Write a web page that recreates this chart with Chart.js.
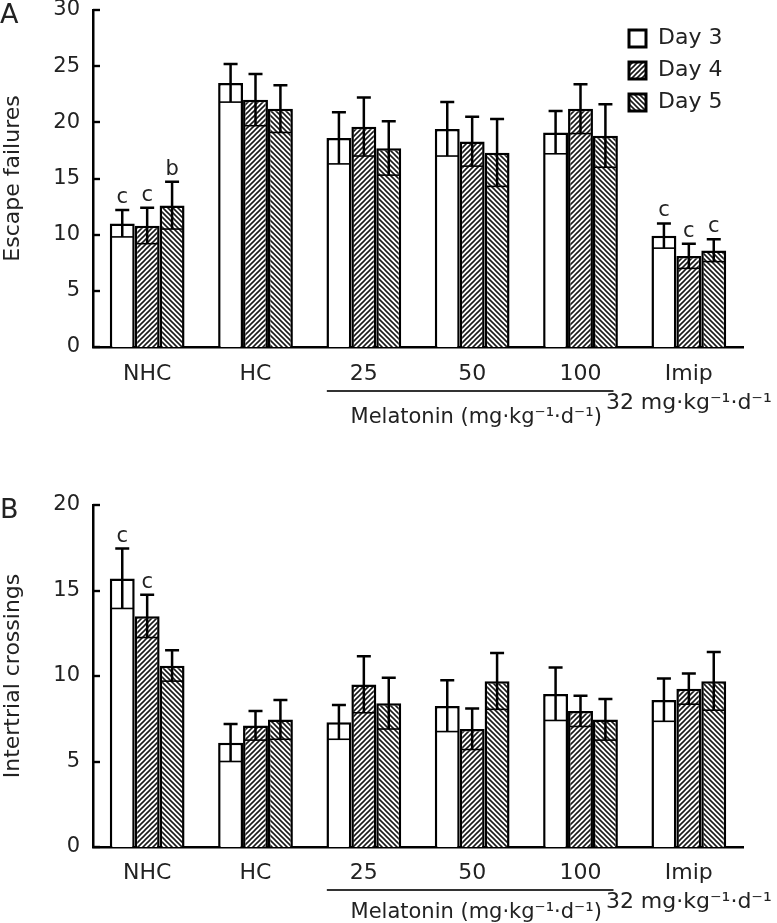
<!DOCTYPE html>
<html><head><meta charset="utf-8">
<script src="https://cdn.jsdelivr.net/npm/chart.js@4"></script>
<style>
html,body{margin:0;padding:0;background:#fff;}
#wrap{position:relative;width:777px;height:923px;overflow:hidden;}
canvas{position:absolute;left:0;}
</style></head><body>
<div id="wrap">
<canvas id="cA" width="777" height="430" style="top:0"></canvas>
<canvas id="cB" width="777" height="493" style="top:430px"></canvas>
</div>
<script>
// ---- data ----
const categories = ['NHC', 'HC', '25', '50', '100', ['Imip', '32 mg·kg⁻¹·d⁻¹']];
const seriesNames = ['Day 3', 'Day 4', 'Day 5'];
const yTicksA = [0, 5, 10, 15, 20, 25, 30];
const yTicksB = [0, 5, 10, 15, 20];

// Panel A: Escape failures
const escapeDay3 = [11.0, 23.5, 18.6, 19.4, 19.1, 9.9];
const escapeDay4 = [10.8, 22.0, 19.6, 18.3, 21.2, 8.1];
const escapeDay5 = [12.6, 21.2, 17.7, 17.3, 18.8, 8.6];
const escapeErr3 = [1.2, 1.7, 2.3, 2.4, 1.9, 1.1];
const escapeErr4 = [1.6, 2.3, 2.6, 2.2, 2.2, 1.1];
const escapeErr5 = [2.1, 2.1, 2.4, 3.0, 2.8, 1.0];
const escapeSig3 = ['c', '', '', '', '', 'c'];
const escapeSig4 = ['c', '', '', '', '', 'c'];
const escapeSig5 = ['b', '', '', '', '', 'c'];

// Panel B: Intertrial crossings
const crossDay3 = [15.7, 6.1, 7.3, 8.25, 8.95, 8.6];
const crossDay4 = [13.5, 7.1, 9.5, 6.9, 7.95, 9.25];
const crossDay5 = [10.6, 7.45, 8.4, 9.7, 7.45, 9.7];
const crossErr3 = [1.75, 1.1, 1.0, 1.5, 1.55, 1.25];
const crossErr4 = [1.25, 0.85, 1.65, 1.2, 0.9, 0.9];
const crossErr5 = [0.9, 1.15, 1.5, 1.65, 1.2, 1.7];
const crossSig3 = ['c', '', '', '', '', ''];
const crossSig4 = ['c', '', '', '', '', ''];
const crossSig5 = ['', '', '', '', '', ''];

const melatoninLabel = 'Melatonin (mg·kg⁻¹·d⁻¹)';

// ---- styles ----
const FONT = 'DejaVu Sans';
const TXT = '#222';

function hatch(dir) {
  const s = 5;
  const c = document.createElement('canvas');
  c.width = s; c.height = s;
  const g = c.getContext('2d');
  g.fillStyle = '#fff'; g.fillRect(0, 0, s, s);
  g.strokeStyle = '#1a1a1a'; g.lineWidth = 1.6;
  g.beginPath();
  if (dir > 0) { // "/"
    g.moveTo(0, s); g.lineTo(s, 0);
    g.moveTo(-1, 1); g.lineTo(1, -1);
    g.moveTo(s - 1, s + 1); g.lineTo(s + 1, s - 1);
  } else { // "\"
    g.moveTo(0, 0); g.lineTo(s, s);
    g.moveTo(s - 1, -1); g.lineTo(s + 1, 1);
    g.moveTo(-1, s - 1); g.lineTo(1, s + 1);
  }
  g.stroke();
  return g.createPattern(c, 'repeat');
}
const fills = ['#ffffff', hatch(1), hatch(-1)];

function makeDatasets(vals, errs, sigs) {
  return vals.map((v, i) => ({
    label: seriesNames[i],
    data: v,
    errors: errs[i],
    sig: sigs[i],
    backgroundColor: fills[i],
    borderColor: '#000',
    borderWidth: 2.5,
    categoryPercentage: 0.69,
    barPercentage: 1.0
  }));
}

// ---- plugins ----
const errorBars = {
  id: 'errorBars',
  afterDatasetsDraw(chart) {
    const ctx = chart.ctx, ys = chart.scales.y;
    chart.data.datasets.forEach((ds, i) => {
      const meta = chart.getDatasetMeta(i);
      meta.data.forEach((bar, j) => {
        const v = ds.data[j], e = ds.errors[j];
        const x = bar.x, half = bar.width / 2;
        const yt = ys.getPixelForValue(v + e), yb = ys.getPixelForValue(v - e);
        ctx.save();
        ctx.strokeStyle = '#000';
        ctx.lineWidth = 2.5;
        ctx.beginPath();
        ctx.moveTo(x, yt); ctx.lineTo(x, yb);
        ctx.moveTo(x - 7, yt); ctx.lineTo(x + 7, yt);
        ctx.stroke();
        ctx.lineWidth = 1.6;
        ctx.beginPath();
        ctx.moveTo(x - half + 1, yb); ctx.lineTo(x + half - 1, yb);
        ctx.stroke();
        if (ds.sig[j]) {
          ctx.fillStyle = TXT;
          ctx.font = '21px "' + FONT + '"';
          ctx.textAlign = 'center';
          ctx.textBaseline = 'alphabetic';
          ctx.fillText(ds.sig[j], x, yt - 7);
        }
        ctx.restore();
      });
    });
  }
};

const decorations = {
  id: 'decorations',
  afterDraw(chart, args, o) {
    const ctx = chart.ctx, xs = chart.scales.x, ys = chart.scales.y, ca = chart.chartArea;
    ctx.save();
    // inward y tick marks
    ctx.strokeStyle = '#000'; ctx.lineWidth = 2.4;
    ys.ticks.forEach(t => {
      const y = Math.round(ys.getPixelForValue(t.value));
      ctx.beginPath(); ctx.moveTo(ca.left, y); ctx.lineTo(ca.left + 7, y); ctx.stroke();
    });
    // melatonin bracket line
    const x1 = xs.getPixelForValue(2) - 37, x2 = xs.getPixelForValue(4) + 33;
    ctx.strokeStyle = '#333'; ctx.lineWidth = 2;
    ctx.beginPath(); ctx.moveTo(x1, ca.bottom + o.lineOff); ctx.lineTo(x2, ca.bottom + o.lineOff); ctx.stroke();
    ctx.fillStyle = TXT;
    ctx.font = '21px "' + FONT + '"';
    ctx.textAlign = 'center'; ctx.textBaseline = 'middle';
    ctx.fillText(melatoninLabel, (x1 + x2) / 2 + 6, ca.bottom + o.textOff);
    // panel letter
    ctx.font = '27px "' + FONT + '"';
    ctx.textAlign = 'left'; ctx.textBaseline = 'middle';
    ctx.fillText(o.letter, 0, o.letterY);
    // legend
    if (o.legend) {
      chart.data.datasets.forEach((ds, i) => {
        const bx = 629, by = 30 + i * 32, s = 17;
        ctx.fillStyle = ds.backgroundColor;
        ctx.fillRect(bx, by, s, s);
        ctx.strokeStyle = '#000'; ctx.lineWidth = 3;
        ctx.strokeRect(bx, by, s, s);
        ctx.fillStyle = TXT;
        ctx.font = '22px "' + FONT + '"';
        ctx.textAlign = 'left'; ctx.textBaseline = 'middle';
        ctx.fillText(ds.label, 658, by + s / 2);
      });
    }
    ctx.restore();
  }
};

function makeOptions(yMax, yTitle, xHeight, topPad, xPad, deco) {
  return {
    responsive: false,
    animation: false,
    layout: { padding: { left: 0, right: 34, top: topPad, bottom: 0 } },
    plugins: { legend: { display: false }, tooltip: { enabled: false }, decorations: deco },
    scales: {
      x: {
        grid: { display: false, drawTicks: false },
        border: { display: true, color: '#000', width: 2.5 },
        ticks: { color: TXT, font: { family: FONT, size: 22, lineHeight: 1.35 }, padding: xPad,
                 maxRotation: 0, minRotation: 0, autoSkip: false },
        afterFit(s) { s.height = xHeight; s.paddingLeft = 0; s.paddingRight = 0; }
      },
      y: {
        min: 0, max: yMax,
        afterBuildTicks(s) { s.ticks = (yMax === 30 ? yTicksA : yTicksB).map(v => ({ value: v })); },
        grid: { display: false, drawTicks: false },
        border: { display: true, color: '#000', width: 2.5 },
        ticks: { color: TXT, font: { family: FONT, size: 21 }, padding: 13 },
        title: { display: true, text: yTitle, color: TXT, font: { family: FONT, size: 22 }, padding: { top: 0, bottom: 0 } },
        afterFit(s) { s.width = 93; s.paddingTop = 0; s.paddingBottom = 0; }
      }
    }
  };
}

new Chart(document.getElementById('cA'), {
  type: 'bar',
  data: { labels: categories,
    datasets: makeDatasets([escapeDay3, escapeDay4, escapeDay5], [escapeErr3, escapeErr4, escapeErr5], [escapeSig3, escapeSig4, escapeSig5]) },
  options: makeOptions(30, 'Escape failures', 83, 10, 12, { lineOff: 44, textOff: 71, letter: 'A', letterY: 16, legend: true }),
  plugins: [errorBars, decorations]
});

new Chart(document.getElementById('cB'), {
  type: 'bar',
  data: { labels: categories,
    datasets: makeDatasets([crossDay3, crossDay4, crossDay5], [crossErr3, crossErr4, crossErr5], [crossSig3, crossSig4, crossSig5]) },
  options: makeOptions(20, 'Intertrial crossings', 76, 75, 11, { lineOff: 43, textOff: 66, letter: 'B', letterY: 81, legend: false }),
  plugins: [errorBars, decorations]
});
</script>
</body></html>
